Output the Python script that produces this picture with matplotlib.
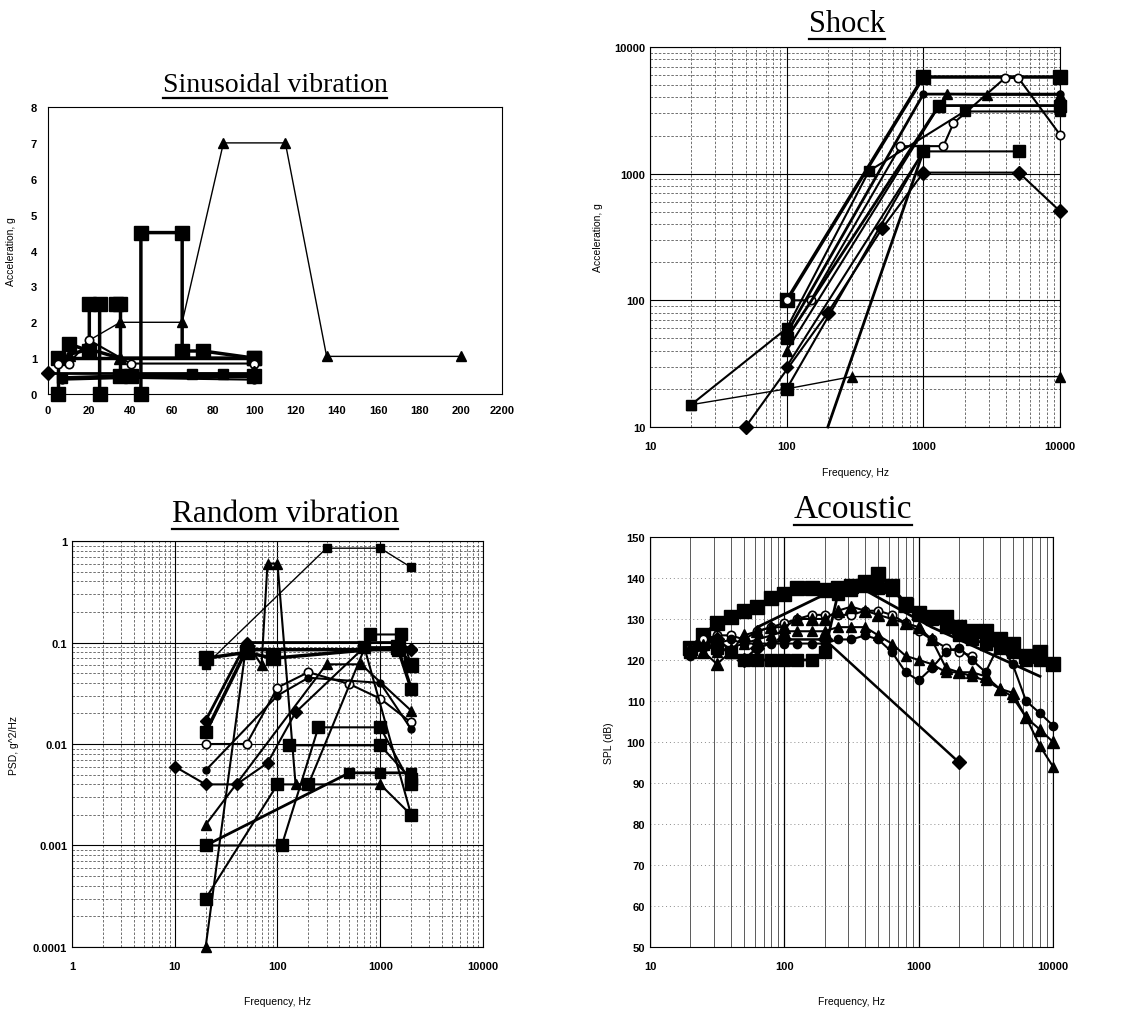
import matplotlib
matplotlib.use("Agg")
import matplotlib.pyplot as plt
from matplotlib.lines import Line2D
from matplotlib.ticker import NullFormatter

# ---------------- data ----------------
# Sinusoidal vibration: frequency (Hz) / acceleration (g)
sin_freq = [
    [5, 5, 100],
    [10, 20, 20, 25, 25],
    [33, 35, 35, 40, 100],
    [45, 45, 65, 65, 75, 100],
    [20, 35, 65, 85, 115, 135, 200],
    [10, 20, 35, 100],
    [5, 10, 20, 40, 100],
    [0, 100],
    [7, 35, 70, 85, 100],
    [7, 40, 100],
]
sin_acc = [
    [0, 1.0, 1.0],
    [1.4, 1.2, 2.5, 2.5, 0],
    [2.5, 2.5, 0.5, 0.5, 0.5],
    [0, 4.5, 4.5, 1.2, 1.2, 1.0],
    [1.5, 2.0, 2.0, 7.0, 7.0, 1.05, 1.05],
    [1.1, 1.25, 1.0, 1.0],
    [0.85, 0.85, 1.5, 0.85, 0.85],
    [0.6, 0.6],
    [0.45, 0.5, 0.55, 0.55, 0.5],
    [0.4, 0.45, 0.4],
]
sin_style = [("s", 10, 2.5), ("s", 10, 2.5), ("s", 10, 2.5), ("s", 10, 2.5),
             ("^", 7, 1.0), ("^", 9, 2.5), ("o_open", 6, 1.5), ("D", 7, 2.0),
             ("s", 7, 2.5), ("o", 5, 1.5)]
sin_xticks = [0, 20, 40, 60, 80, 100, 120, 140, 160, 180, 200, 220]
sin_xlabels = ["0", "20", "40", "60", "80", "100", "120", "140", "160", "180", "200", "2200"]

# Shock: frequency (Hz) / acceleration (g)
shock_freq = [
    [100, 1000, 10000],
    [100, 150, 680, 1400, 1660, 3960, 4960, 10000],
    [100, 1000, 10000],
    [100, 1480, 2900, 10000],
    [100, 1300, 10000],
    [20, 100, 400, 2000, 10000],
    [20, 100, 300, 10000],
    [100, 1000, 5000],
    [50, 200, 500, 1000, 5000, 10000],
    [100, 1000],
    [200, 1000],
]
shock_acc = [
    [100, 5800, 5800],
    [100, 100, 1650, 1650, 2500, 5700, 5700, 2030],
    [55, 4250, 4250],
    [40, 4270, 4200, 4200],
    [50, 3450, 3450],
    [15, 60, 1050, 3100, 3100],
    [15, 20, 25, 25],
    [20, 1500, 1500],
    [10, 80, 370, 1020, 1020, 505],
    [30, 1500],
    [10, 1500],
]
shock_style = [("s", 10, 2.5), ("o_open", 6, 1.5), ("o", 5, 2.0), ("^", 7, 1.5),
               ("s", 9, 2.0), ("s", 7, 1.5), ("^", 7, 1.0), ("s", 9, 1.5),
               ("D", 7, 1.5), ("D", 6, 1.5), ("", 0, 2.0)]

# Random vibration: frequency (Hz) / PSD (g^2/Hz)
rnd_freq = [
    [20, 300, 1000, 2000],
    [20, 50, 90, 1500, 2000],
    [20, 50, 1500, 2000],
    [20, 50, 1500, 2000],
    [20, 50, 70, 80, 100, 150, 200, 1000, 2000],
    [20, 50, 100, 200, 500, 1000, 2000],
    [20, 300, 650, 2000],
    [10, 20, 40, 80, 150, 700, 1500, 2000],
    [20, 100, 200, 1000, 2000],
    [130, 1000, 2000],
    [20, 110, 250, 1000, 2000],
    [20, 100, 200, 800, 1600, 2000],
    [20, 500, 1000, 2000],
    [700, 2000],
]
rnd_psd = [
    [0.06, 0.85, 0.85, 0.55],
    [0.07, 0.08, 0.07, 0.09, 0.06],
    [0.017, 0.1, 0.1, 0.085],
    [0.013, 0.085, 0.085, 0.035],
    [0.0001, 0.1, 0.06, 0.6, 0.6, 0.004, 0.004, 0.004, 0.002],
    [0.01, 0.01, 0.036, 0.051, 0.039, 0.028, 0.0163],
    [0.0016, 0.061, 0.061, 0.0213],
    [0.006, 0.004, 0.004, 0.0065, 0.0205, 0.09, 0.09, 0.086],
    [0.0055, 0.03, 0.045, 0.04, 0.014],
    [0.0097, 0.0097, 0.0045],
    [0.001, 0.001, 0.0146, 0.0146, 0.004],
    [0.0003, 0.004, 0.004, 0.12, 0.12, 0.06],
    [0.001, 0.0052, 0.0052, 0.0052],
    [0.09, 0.002],
]
rnd_style = [("s", 6, 1.0), ("s", 10, 2.5), ("D", 6, 2.0), ("s", 9, 2.5),
             ("^", 7, 1.5), ("o_open", 6, 1.5), ("^", 7, 1.5), ("D", 6, 1.5),
             ("o", 5, 1.5), ("s", 9, 1.5), ("s", 9, 1.5), ("s", 9, 1.5),
             ("s", 7, 2.0), ("s", 8, 1.5)]

# Acoustic: 1/3 octave frequency (Hz) / SPL (dB)
ac_f = [20, 25, 31.5, 40, 50, 63, 80, 100, 125, 160, 200, 250, 315, 400,
        500, 630, 800, 1000, 1250, 1600, 2000, 2500, 3150, 4000, 5000, 6300,
        8000, 10000]
ac_top_sq = [123, 126, 129, 130.5, 132, 133, 135, 136, 137.5, 137.5, 137, 137.5, 138, 139,
             141, 138, 133.5, 131.5, 130.5, 130.5, 128, 127, 127, 125, 124, 121, 122, 119]
ac_low_sq = [122, 124, 123, 122, 120, 120, 120, 120, 120, 120, 122, 136, 137, 138,
             137.5, 137, 134, 131, 130, 128, 126, 125, 124, 123, 122, 120, 120]
ac_open = [123, 125, 126, 126, 125, 127, 128, 129, 130, 131, 131, 131, 131, 132,
           132, 131, 129, 127, 125, 123, 122, 121]
ac_tri_a = [123, 122, 119, 122, 126, 127, 128, 128, 130, 130, 130, 132, 133, 132,
            131, 130, 129, 128, 125, 118, 117, 117, 116, 113, 112, 106, 103, 100]
ac_tri_b = [123, 124, 122, 123, 124, 125, 126, 127, 127, 127, 127, 128, 128, 128,
            126, 124, 121, 120, 119, 117, 117, 116, 115, 113, 111, 106, 99, 94]
ac_circ = [121, 123, 124, 125, 124, 124, 124, 124, 124, 124, 124, 125, 125, 126,
           125, 122, 117, 115, 118, 122, 123, 120, 117, 124, 119, 110, 107, 104]
ac_dia_f = [20, 31.5, 50, 63, 100, 200, 2000]
ac_dia = [122, 125, 120, 123, 125, 125, 95]
ac_line_f = [63, 200, 400, 1250, 8000]
ac_line = [128, 136, 137, 128, 116]

# ---------------- figure ----------------
plt.rcParams["font.family"] = ["Liberation Sans", "DejaVu Sans"]
fig = plt.figure(figsize=(11.33, 10.2), dpi=100)


def draw(ax, xs, ys, style):
    mk, ms, lw = style
    if mk == "o_open":
        ax.plot(xs, ys, color="black", lw=lw, marker="o", ms=ms, mfc="white",
                mec="black", mew=1.2, clip_on=False, zorder=3)
    else:
        ax.plot(xs, ys, color="black", lw=lw, marker=mk if mk else None, ms=ms,
                mfc="black", mec="black", clip_on=False, zorder=3)


def log_grid(ax):
    ax.grid(True, which="major", color="black", lw=0.8)
    ax.grid(True, which="minor", color="0.35", lw=0.6, ls=(0, (3, 2)))
    ax.tick_params(which="both", length=0)


def underline_title(txt):
    fig.canvas.draw()
    bb = txt.get_window_extent(fig.canvas.get_renderer())
    W, H = fig.bbox.width, fig.bbox.height
    y = (bb.y0 - 1) / H
    fig.add_artist(Line2D([bb.x0 / W, bb.x1 / W], [y, y], color="black", lw=1.6,
                          transform=fig.transFigure))


tick_font = dict(fontsize=8, fontweight="bold")

# Sinusoidal vibration
ax1 = fig.add_axes([0.0424, 0.6127, 0.4007, 0.2814])
for xs, ys, st in zip(sin_freq, sin_acc, sin_style):
    draw(ax1, xs, ys, st)
ax1.set_xlim(0, 220)
ax1.set_ylim(0, 8)
ax1.set_xticks(sin_xticks)
ax1.set_xticklabels(sin_xlabels, **tick_font)
ax1.set_yticks(range(0, 9))
ax1.set_yticklabels([str(v) for v in range(0, 9)], **tick_font)
ax1.tick_params(length=0, pad=8)
for s in ax1.spines.values():
    s.set_linewidth(0.8)
ax1.set_ylabel("Acceleration, g", fontsize=7.5)
ax1.yaxis.set_label_coords(-0.07, 0.5)

# Shock
ax2 = fig.add_axes([0.5737, 0.5804, 0.3619, 0.3725])
ax2.set_xscale("log")
ax2.set_yscale("log")
for xs, ys, st in zip(shock_freq, shock_acc, shock_style):
    draw(ax2, xs, ys, st)
ax2.set_xlim(10, 10000)
ax2.set_ylim(10, 10000)
log_grid(ax2)
dec = [10, 100, 1000, 10000]
ax2.set_xticks(dec)
ax2.set_xticklabels([str(v) for v in dec], **tick_font)
ax2.set_yticks(dec)
ax2.set_yticklabels([str(v) for v in dec], **tick_font)
ax2.xaxis.set_minor_formatter(NullFormatter())
ax2.yaxis.set_minor_formatter(NullFormatter())
ax2.tick_params(axis="x", pad=10)
ax2.set_xlabel("Frequency, Hz", fontsize=7.5)
ax2.xaxis.set_label_coords(0.5, -0.105)
ax2.set_ylabel("Acceleration, g", fontsize=7.5)
ax2.yaxis.set_label_coords(-0.115, 0.5)

# Random vibration
ax3 = fig.add_axes([0.0635, 0.0706, 0.3628, 0.398])
ax3.set_xscale("log")
ax3.set_yscale("log")
for xs, ys, st in zip(rnd_freq, rnd_psd, rnd_style):
    draw(ax3, xs, ys, st)
ax3.set_xlim(1, 10000)
ax3.set_ylim(0.0001, 1)
log_grid(ax3)
rx = [1, 10, 100, 1000, 10000]
ry = [0.0001, 0.001, 0.01, 0.1, 1]
ax3.set_xticks(rx)
ax3.set_xticklabels([str(v) for v in rx], **tick_font)
ax3.set_yticks(ry)
ax3.set_yticklabels(["0.0001", "0.001", "0.01", "0.1", "1"], **tick_font)
ax3.xaxis.set_minor_formatter(NullFormatter())
ax3.yaxis.set_minor_formatter(NullFormatter())
ax3.tick_params(axis="x", pad=10)
ax3.set_xlabel("Frequency, Hz", fontsize=7.5)
ax3.xaxis.set_label_coords(0.5, -0.12)
ax3.set_ylabel("PSD, g^2/Hz", fontsize=7.5)
ax3.yaxis.set_label_coords(-0.13, 0.5)

# Acoustic
ax4 = fig.add_axes([0.5737, 0.0706, 0.3557, 0.402])
ax4.set_xscale("log")
for ys, st in [(ac_top_sq, ("s", 10, 2.5)), (ac_low_sq, ("s", 8, 2.0)),
               (ac_open, ("o_open", 6, 1.5)), (ac_tri_a, ("^", 8, 1.5)),
               (ac_tri_b, ("^", 7, 1.5)), (ac_circ, ("o", 6, 1.5))]:
    draw(ax4, ac_f[:len(ys)], ys, st)
draw(ax4, ac_dia_f, ac_dia, ("D", 7, 1.8))
draw(ax4, ac_line_f, ac_line, ("", 0, 2.0))
ax4.set_xlim(10, 10000)
ax4.set_ylim(50, 150)
ax4.grid(True, which="major", axis="x", color="black", lw=0.9)
ax4.grid(True, which="minor", axis="x", color="0.25", lw=0.6)
ax4.grid(True, which="major", axis="y", color="0.55", lw=0.7, ls=(0, (1, 3)))
ax4.tick_params(which="both", length=0)
ax4.set_xticks(dec)
ax4.set_xticklabels([str(v) for v in dec], **tick_font)
ax4.xaxis.set_minor_formatter(NullFormatter())
ax4.set_yticks(range(50, 151, 10))
ax4.set_yticklabels([str(v) for v in range(50, 151, 10)], **tick_font)
ax4.tick_params(axis="x", pad=10)
ax4.set_xlabel("Frequency, Hz", fontsize=7.5)
ax4.xaxis.set_label_coords(0.5, -0.12)
ax4.set_ylabel("SPL (dB)", fontsize=7.5)
ax4.yaxis.set_label_coords(-0.09, 0.5)

# titles (underlined, serif)
serif = ["Liberation Serif", "DejaVu Serif"]
titles = [
    fig.text(275 / 1133, 1 - 92 / 1020, "Sinusoidal vibration", family=serif,
             fontsize=20, ha="center", va="baseline"),
    fig.text(847 / 1133, 1 - 32 / 1020, "Shock", family=serif,
             fontsize=22, ha="center", va="baseline"),
    fig.text(285 / 1133, 1 - 522 / 1020, "Random vibration", family=serif,
             fontsize=22.5, ha="center", va="baseline"),
    fig.text(853 / 1133, 1 - 518 / 1020, "Acoustic", family=serif,
             fontsize=24, ha="center", va="baseline"),
]
for t in titles:
    underline_title(t)

fig.savefig("out.png", dpi=100)
